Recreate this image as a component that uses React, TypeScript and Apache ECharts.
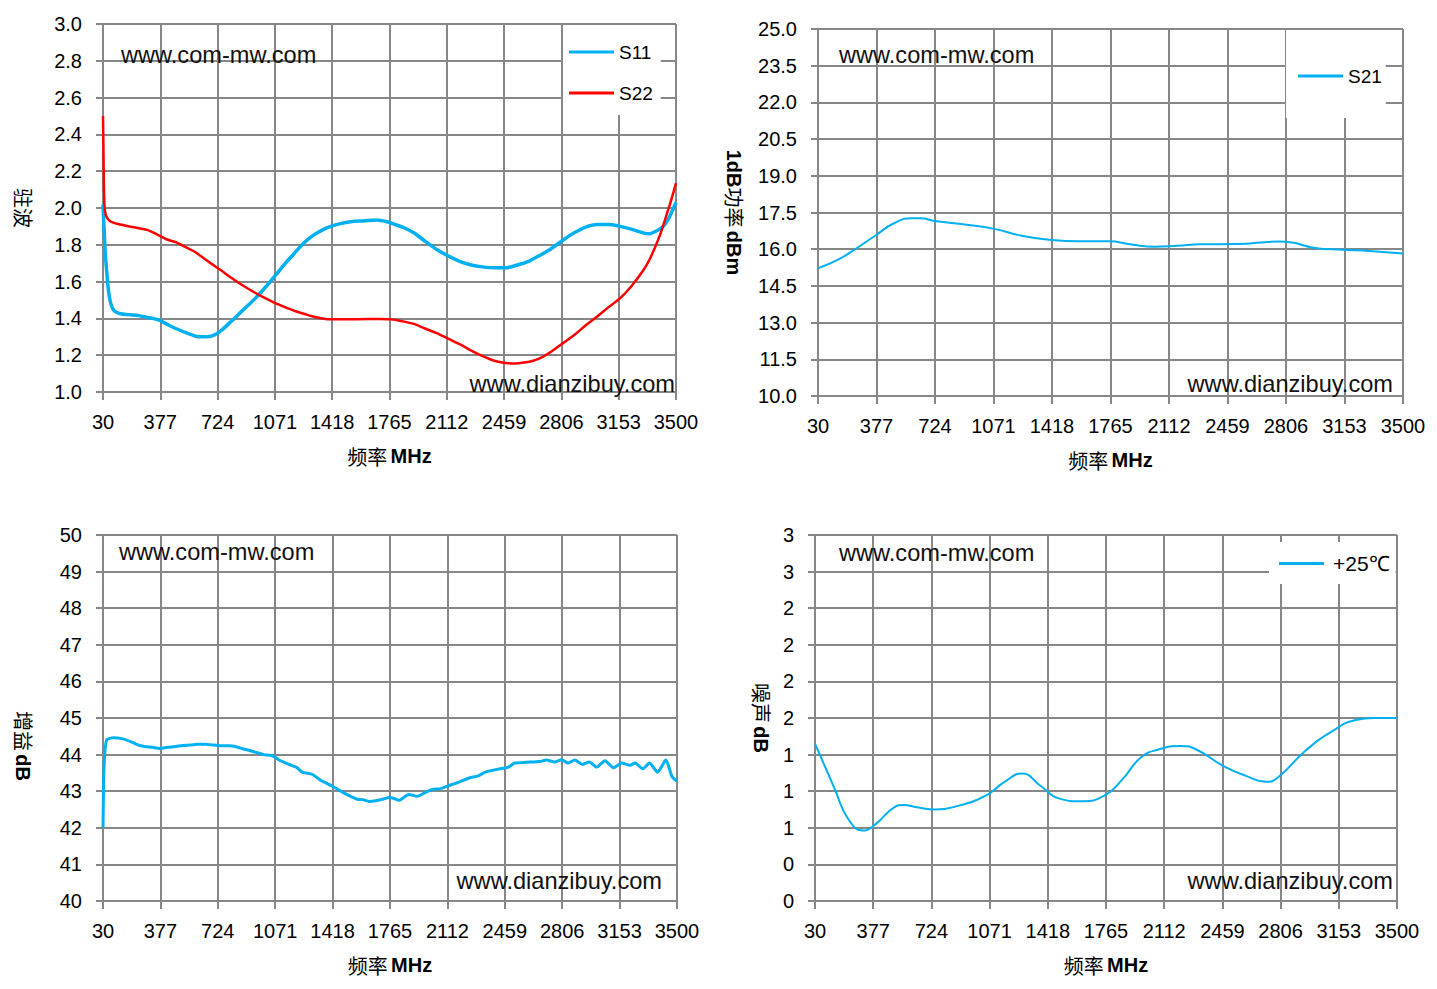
import { useEffect, useRef } from "react";
import * as echarts from "echarts";

// x axis runs 30..3500 MHz in steps of 347; the axis is offset by FREQ_MIN so ticks start at 0
const FREQ_MIN = 30;
const FREQ_STEP = 347;
const FREQ_MAX = 3500;

// 驻波 (VSWR)
const s11Freq = [30, 36, 44, 52, 62, 72, 85, 100, 135, 190, 247, 300, 331, 370, 414, 470, 525, 570, 608, 650, 692, 740, 802, 860, 913, 970, 1024, 1080, 1135, 1190, 1246, 1300, 1357, 1410, 1468, 1530, 1607, 1690, 1750, 1801, 1860, 1912, 1980, 2051, 2120, 2190, 2260, 2329, 2400, 2468, 2540, 2607, 2680, 2746, 2815, 2884, 2950, 3023, 3090, 3162, 3230, 3301, 3340, 3370, 3410, 3440, 3470, 3500];
const s11Vals = [2.02, 1.9, 1.75, 1.66, 1.56, 1.5, 1.46, 1.44, 1.425, 1.42, 1.415, 1.405, 1.4, 1.39, 1.37, 1.345, 1.325, 1.31, 1.3, 1.3, 1.305, 1.33, 1.38, 1.43, 1.475, 1.525, 1.58, 1.64, 1.7, 1.755, 1.81, 1.85, 1.88, 1.9, 1.915, 1.925, 1.93, 1.935, 1.925, 1.91, 1.89, 1.865, 1.82, 1.775, 1.74, 1.71, 1.69, 1.68, 1.675, 1.675, 1.69, 1.71, 1.745, 1.78, 1.825, 1.865, 1.895, 1.91, 1.91, 1.9, 1.885, 1.865, 1.86, 1.87, 1.89, 1.92, 1.97, 2.03];
const s22Freq = [30, 33, 36, 40, 48, 60, 80, 135, 190, 247, 302, 360, 414, 470, 525, 580, 636, 690, 747, 800, 858, 912, 969, 1024, 1080, 1135, 1191, 1246, 1302, 1358, 1413, 1500, 1635, 1700, 1774, 1840, 1912, 1980, 2051, 2120, 2190, 2260, 2329, 2400, 2468, 2524, 2580, 2635, 2690, 2746, 2815, 2884, 2950, 3023, 3090, 3162, 3230, 3301, 3340, 3384, 3410, 3440, 3470, 3500];
const s22Vals = [2.5, 2.3, 2.1, 2.0, 1.96, 1.94, 1.925, 1.91, 1.9, 1.89, 1.88, 1.855, 1.83, 1.815, 1.79, 1.765, 1.73, 1.695, 1.66, 1.625, 1.59, 1.56, 1.53, 1.505, 1.48, 1.46, 1.44, 1.425, 1.41, 1.4, 1.395, 1.395, 1.397, 1.397, 1.395, 1.385, 1.37, 1.345, 1.32, 1.29, 1.26, 1.225, 1.195, 1.17, 1.158, 1.155, 1.16, 1.17, 1.19, 1.22, 1.265, 1.31, 1.36, 1.41, 1.46, 1.51, 1.575, 1.66, 1.72, 1.81, 1.87, 1.955, 2.04, 2.135];

// 1dB功率
const p1dbFreq = [30, 152, 261, 369, 478, 587, 641, 722, 912, 1075, 1238, 1401, 1564, 1754, 1890, 2026, 2162, 2298, 2515, 2760, 2841, 2977, 3139, 3302, 3500];
const p1dbVals = [15.22, 15.58, 16.05, 16.55, 17.05, 17.27, 17.27, 17.15, 17.0, 16.83, 16.55, 16.39, 16.32, 16.32, 16.19, 16.1, 16.14, 16.2, 16.21, 16.31, 16.27, 16.05, 15.98, 15.93, 15.82];
const P1DB_MIN = 10;

// 增益
const gainFreq = [30, 34, 40, 52, 75, 94, 150, 200, 233, 280, 330, 372, 420, 470, 511, 560, 600, 650, 700, 750, 789, 830, 873, 910, 956, 1000, 1040, 1067, 1100, 1150, 1200, 1234, 1280, 1300, 1345, 1400, 1456, 1500, 1540, 1567, 1600, 1640, 1680, 1720, 1762, 1790, 1818, 1879, 1930, 1980, 2021, 2070, 2112, 2183, 2244, 2300, 2345, 2426, 2467, 2490, 2518, 2589, 2670, 2710, 2761, 2801, 2842, 2882, 2929, 2970, 3014, 3065, 3116, 3166, 3216, 3247, 3293, 3334, 3382, 3433, 3469, 3500];
const gainVals = [42.0, 43.3, 44.0, 44.4, 44.45, 44.46, 44.43, 44.35, 44.28, 44.22, 44.2, 44.17, 44.2, 44.22, 44.25, 44.26, 44.28, 44.28, 44.26, 44.24, 44.24, 44.22, 44.16, 44.12, 44.06, 44.0, 43.98, 43.94, 43.84, 43.74, 43.65, 43.52, 43.48, 43.45, 43.3, 43.18, 43.03, 42.92, 42.83, 42.78, 42.77, 42.72, 42.74, 42.78, 42.83, 42.8, 42.75, 42.91, 42.86, 42.97, 43.05, 43.07, 43.14, 43.25, 43.36, 43.42, 43.53, 43.61, 43.64, 43.68, 43.77, 43.79, 43.81, 43.85, 43.8, 43.86, 43.77, 43.85, 43.73, 43.8, 43.66, 43.83, 43.64, 43.77, 43.71, 43.77, 43.61, 43.77, 43.52, 43.85, 43.41, 43.27];

// 噪声
const nfFreq = [30, 147, 229, 319, 393, 502, 556, 638, 747, 883, 1047, 1156, 1265, 1374, 1483, 1619, 1755, 1864, 1973, 2082, 2205, 2300, 2463, 2599, 2722, 2790, 2954, 3117, 3254, 3363, 3500];
const nfVals = [1.29, 0.92, 0.67, 0.577, 0.632, 0.768, 0.787, 0.768, 0.749, 0.78, 0.863, 0.972, 1.045, 0.945, 0.841, 0.817, 0.863, 0.999, 1.176, 1.244, 1.271, 1.244, 1.108, 1.026, 0.977, 1.013, 1.231, 1.394, 1.484, 1.5, 1.5];

const BLUE = "#00B0F0";
const RED = "#FF0000";
const GRID_COLOR = "#878787";
const LATIN = '"Liberation Sans", Arial, sans-serif';
const CJK = '"Noto Sans CJK SC", sans-serif';

const toPoints = (freq: number[], vals: number[], yOffset = 0) =>
  freq.map((f, i) => [f - FREQ_MIN, vals[i] - yOffset]);

const gridLine = { color: GRID_COLOR, width: 2 };

const nameRich = {
  c: { fontFamily: CJK, fontSize: 20, color: "#000" },
  b: { fontFamily: LATIN, fontSize: 20, fontWeight: "bold", color: "#000" },
};

function xAxis(gridIndex: number) {
  return {
    type: "value",
    gridIndex,
    min: 0,
    max: FREQ_MAX - FREQ_MIN,
    interval: FREQ_STEP,
    axisLine: { show: true, onZero: false, lineStyle: gridLine },
    axisTick: { show: true, length: 8, lineStyle: gridLine },
    axisLabel: {
      margin: 20,
      color: "#000",
      fontSize: 20,
      fontFamily: LATIN,
      formatter: (v: number) => String(Math.round(v + FREQ_MIN)),
    },
    splitLine: { show: true, lineStyle: gridLine },
    name: "{c|频率} {b|MHz}",
    nameLocation: "middle",
    nameGap: 54,
    nameTextStyle: { rich: nameRich },
  };
}

function yAxis(
  gridIndex: number,
  min: number,
  max: number,
  interval: number,
  formatter: (v: number) => string,
  name: string,
  nameGap: number,
  namePad: number[] = [0, 0, 0, 0]
) {
  return {
    type: "value",
    gridIndex,
    min,
    max,
    interval,
    axisLine: { show: true, onZero: false, lineStyle: gridLine },
    axisTick: { show: true, length: 7, lineStyle: gridLine },
    axisLabel: { margin: 21, color: "#000", fontSize: 20, fontFamily: LATIN, formatter },
    splitLine: { show: true, lineStyle: gridLine },
    name,
    nameLocation: "middle",
    nameRotate: -90,
    nameGap,
    nameTextStyle: { rich: nameRich, padding: namePad },
  };
}

function legend(
  names: string[],
  left: number,
  top: number,
  padding: number[],
  itemGap = 20,
  fontSize = 19,
  textPad = 0
) {
  return {
    data: names,
    orient: "vertical",
    left,
    top,
    backgroundColor: "#fff",
    padding,
    itemGap,
    itemWidth: 45,
    itemHeight: 3,
    icon: "rect",
    selectedMode: false,
    textStyle: {
      fontFamily: LATIN,
      fontSize,
      color: "#000",
      lineHeight: 20,
      padding: [0, 0, 0, textPad],
    },
  };
}

function watermark(text: string, x: number, y: number, align: "left" | "right") {
  return {
    type: "text",
    x,
    y,
    z: 10,
    style: {
      text,
      fill: "#111",
      font: `23.6px ${LATIN}`,
      align,
      verticalAlign: "middle",
      textAlign: align,
      textVerticalAlign: "middle",
    },
  };
}

export default function App() {
  const ref = useRef<HTMLDivElement>(null);

  useEffect(() => {
    if (!ref.current) return;
    const chart = echarts.init(ref.current, undefined, { renderer: "svg" });
    chart.setOption({
      animation: false,
      backgroundColor: "#fff",
      grid: [
        { left: 103, top: 24, width: 573, height: 368 },
        { left: 818, top: 29, width: 585, height: 367 },
        { left: 103, top: 535, width: 574, height: 366 },
        { left: 815, top: 535, width: 582, height: 366 },
      ],
      xAxis: [xAxis(0), xAxis(1), xAxis(2), xAxis(3)],
      yAxis: [
        yAxis(0, 1, 3, 0.2, (v) => v.toFixed(1), "{c|驻波}", 70),
        yAxis(1, 0, 15, 1.5, (v) => (v + P1DB_MIN).toFixed(1), "{b|1dB}{c|功率} {b|dBm}", 74),
        yAxis(2, 40, 50, 1, (v) => String(Math.round(v)), "{c|增益} {b|dB}", 70, [0, 0, 0, 56]),
        yAxis(3, 0, 3, 0.3, (v) => String(Math.round(Number(v.toFixed(2)))), "{c|噪声} {b|dB}", 44),
      ],
      legend: [
        legend(["S11", "S22"], 563, 25, [17, 8, 12, 6], 21),
        legend(["S21"], 1286, 30, [36, 4, 32, 12]),
        legend(["+25℃"], 1269, 542, [11, 6, 10, 10], 20, 21, 4),
      ],
      graphic: [
        watermark("www.com-mw.com", 121, 55, "left"),
        watermark("www.dianzibuy.com", 675, 384, "right"),
        watermark("www.com-mw.com", 839, 55, "left"),
        watermark("www.dianzibuy.com", 1393, 384, "right"),
        watermark("www.com-mw.com", 119, 552, "left"),
        watermark("www.dianzibuy.com", 662, 881, "right"),
        watermark("www.com-mw.com", 839, 553, "left"),
        watermark("www.dianzibuy.com", 1393, 881, "right"),
      ],
      series: [
        {
          name: "S11",
          type: "line",
          xAxisIndex: 0,
          yAxisIndex: 0,
          data: toPoints(s11Freq, s11Vals),
          symbol: "none",
          smooth: 0.3,
          color: BLUE,
          lineStyle: { color: BLUE, width: 3.5 },
        },
        {
          name: "S22",
          type: "line",
          xAxisIndex: 0,
          yAxisIndex: 0,
          data: toPoints(s22Freq, s22Vals),
          symbol: "none",
          smooth: 0.3,
          color: RED,
          lineStyle: { color: RED, width: 2.5 },
        },
        {
          name: "S21",
          type: "line",
          xAxisIndex: 1,
          yAxisIndex: 1,
          data: toPoints(p1dbFreq, p1dbVals, P1DB_MIN),
          symbol: "none",
          smooth: true,
          color: BLUE,
          lineStyle: { color: BLUE, width: 2 },
        },
        {
          name: "S21",
          type: "line",
          xAxisIndex: 2,
          yAxisIndex: 2,
          data: toPoints(gainFreq, gainVals),
          symbol: "none",
          smooth: 0.2,
          color: BLUE,
          lineStyle: { color: BLUE, width: 3 },
        },
        {
          name: "+25℃",
          type: "line",
          xAxisIndex: 3,
          yAxisIndex: 3,
          data: toPoints(nfFreq, nfVals),
          symbol: "none",
          smooth: true,
          color: BLUE,
          lineStyle: { color: BLUE, width: 2 },
        },
      ],
    });
    return () => chart.dispose();
  }, []);

  return (
    <div
      ref={ref}
      style={{ position: "absolute", left: 0, top: 0, width: 1437, height: 989 }}
    />
  );
}
